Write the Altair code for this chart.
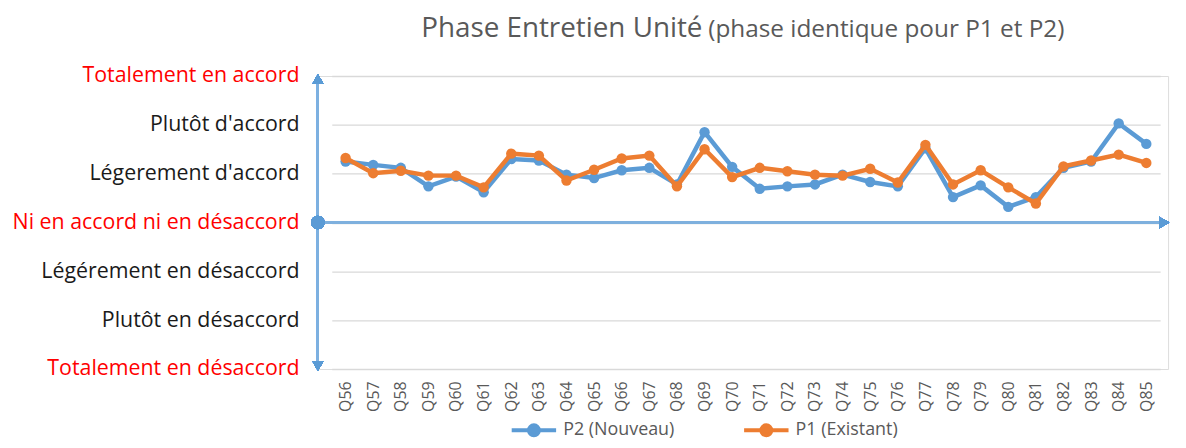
import altair as alt
import pandas as pd

questions = ["Q%d" % i for i in range(56, 86)]
p2_values = [1.25, 1.18, 1.12, 0.74, 0.94, 0.62, 1.30, 1.27, 0.98, 0.91,
             1.07, 1.12, 0.78, 1.85, 1.14, 0.69, 0.74, 0.78, 0.98, 0.83,
             0.74, 1.52, 0.52, 0.76, 0.32, 0.52, 1.12, 1.25, 2.03, 1.61]
p1_values = [1.32, 1.01, 1.06, 0.96, 0.96, 0.72, 1.41, 1.37, 0.86, 1.08,
             1.31, 1.37, 0.74, 1.50, 0.93, 1.12, 1.05, 0.98, 0.96, 1.10,
             0.82, 1.59, 0.78, 1.07, 0.72, 0.39, 1.15, 1.27, 1.39, 1.22]
series_names = ["P2 (Nouveau)", "P1 (Existant)"]
series_colors = ["#5B9BD5", "#ED7D31"]
level_values = [-3, -2, -1, 0, 1, 2, 3]
level_labels = ["Totalement en désaccord", "Plutôt en désaccord", "Légérement en désaccord",
                "Ni en accord ni en désaccord", "Légerement d'accord", "Plutôt d'accord",
                "Totalement en accord"]
title_main = "Phase Entretien Unité"
title_sub = "(phase identique pour P1 et P2)"

rows = []
for name, vals in zip(series_names, [p2_values, p1_values]):
    for q, v in zip(questions, vals):
        rows.append({"question": q, "value": v, "series": name})
df = pd.DataFrame(rows)

W, H = 856, 295
FONT = "Open Sans"

label_js = "[" + ",".join("'" + s.replace("'", "\\'") + "'" for s in level_labels) + "]"

x_enc = alt.X("question:N", sort=questions,
              scale=alt.Scale(type="point", range=[14, 848]),
              axis=alt.Axis(title=None, labelAngle=-90, ticks=False, domain=False, grid=False,
                            labelPadding=12, labelFontSize=16, labelColor="#595959",
                            labelFont=FONT))
y_scale = alt.Scale(domain=[-3, 3], nice=False, zero=False)
y_axis = alt.Axis(title=None, values=level_values, ticks=False, domain=False, grid=True,
                  gridColor="#D9D9D9", gridWidth=1.3,
                  labelExpr=label_js + "[datum.value + 3]",
                  labelFontSize=21.5, labelFont=FONT, labelPadding=19, labelLimit=0,
                  labelColor={"condition": {"test": "datum.value == 0 || abs(datum.value) == 3",
                                            "value": "#FF0000"}, "value": "#1A1A1A"})
color_enc = alt.Color("series:N", scale=alt.Scale(domain=series_names, range=series_colors),
                      legend=alt.Legend(title=None, orient="none", direction="horizontal",
                                        legendX=204, legendY=343, padding=0,
                                        symbolType="M-2,0H2M-0.45,0A0.45,0.45,0,1,0,0.45,0A0.45,0.45,0,1,0,-0.45,0Z",
                                        symbolSize=500, symbolStrokeWidth=4,
                                        labelFontSize=18, labelFont=FONT, labelColor="#595959",
                                        columnPadding=62, labelOffset=16, labelLimit=0))

base = alt.Chart(df)

grid_layer = base.mark_point(opacity=0).encode(
    x=x_enc, y=alt.Y("value:Q", scale=y_scale, axis=y_axis))

axis_color = "#7EB0DE"
vrule = base.mark_rule(color=axis_color, strokeWidth=2).encode(
    x=alt.value(0), y=alt.value(3), y2=alt.value(292))
hrule = base.mark_rule(color=axis_color, strokeWidth=2).encode(
    x=alt.value(0), x2=alt.value(853), y=alt.datum(0, scale=y_scale))
arrow_up = base.mark_point(shape="triangle-up", filled=True, color="#5B9BD5", size=120, opacity=1).encode(
    x=alt.value(0), y=alt.value(3))
arrow_down = base.mark_point(shape="triangle-down", filled=True, color="#5B9BD5", size=120, opacity=1).encode(
    x=alt.value(0), y=alt.value(292))
arrow_right = base.mark_point(shape="triangle-right", filled=True, color="#5B9BD5", size=140, opacity=1).encode(
    x=alt.value(852), y=alt.datum(0, scale=y_scale))
origin_dot = base.mark_point(shape="circle", filled=True, color="#5B9BD5", size=180, opacity=1).encode(
    x=alt.value(0), y=alt.datum(0, scale=y_scale))

series_layers = []
for name in series_names:
    sub = base.transform_filter(alt.datum.series == name)
    line = sub.mark_line(strokeWidth=4.5).encode(
        x=x_enc, y=alt.Y("value:Q", scale=y_scale), color=color_enc)
    pts = sub.mark_point(filled=True, size=110, opacity=1).encode(
        x=x_enc, y=alt.Y("value:Q", scale=y_scale), color=color_enc)
    series_layers += [line, pts]

title_df = pd.DataFrame({"t": [title_main]})
sub_df = pd.DataFrame({"t": [title_sub]})
t1 = alt.Chart(title_df).mark_text(align="left", baseline="alphabetic", fontSize=28,
                                   font=FONT, color="#595959").encode(
    text="t:N", x=alt.value(104), y=alt.value(-39))
t2 = alt.Chart(sub_df).mark_text(align="left", baseline="alphabetic", fontSize=24.5,
                                 font=FONT, color="#595959").encode(
    text="t:N", x=alt.value(393), y=alt.value(-39))

chart = alt.layer(grid_layer, vrule, hrule, arrow_up, arrow_down, arrow_right, origin_dot,
                  *series_layers, t1, t2).properties(
    width=W, height=H,
    autosize=alt.AutoSizeParams(type="none"),
    padding={"left": 312, "top": 67, "right": 10, "bottom": 70},
).configure_view(stroke=None).configure(background="white")

chart.save("out.html", embed_options={"renderer": "svg", "actions": False})
